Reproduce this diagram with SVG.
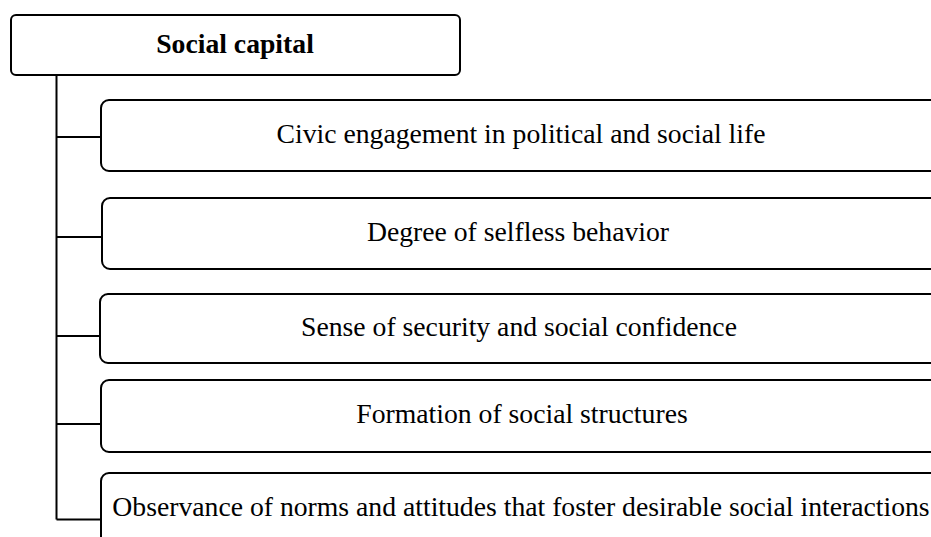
<svg xmlns="http://www.w3.org/2000/svg" width="931" height="537" viewBox="0 0 931 537">
  <style>
    .box { fill: #ffffff; stroke: #000000; stroke-width: 2; }
    .link { fill: none; stroke: #000000; stroke-width: 2; }
    .label { font-family: "Liberation Serif", "Times New Roman", Times, serif; font-size: 27.7px; fill: #000000; text-anchor: middle; }
    .title { font-weight: bold; }
  </style>
  <rect width="931" height="537" fill="#ffffff"/>
  <!-- trunk and branches from the root to each item -->
  <g id="connectors">
    <path class="link" d="M56.5 75 V519.5"/>
    <path class="link" d="M56.5 137 H101"/>
    <path class="link" d="M56.5 237 H102"/>
    <path class="link" d="M56.5 336 H100"/>
    <path class="link" d="M56.5 424 H101"/>
    <path class="link" d="M56.5 519.5 H101"/>
  </g>
  <g id="root">
    <rect class="box" x="11" y="15" width="449" height="60" rx="5"/>
    <text class="label title" x="235" y="53">Social capital</text>
  </g>
  <g id="civic">
    <rect class="box" x="101" y="100" width="840" height="71" rx="8"/>
    <text class="label" x="521" y="143">Civic engagement in political and social life</text>
  </g>
  <g id="selfless">
    <rect class="box" x="102" y="198" width="840" height="71" rx="8"/>
    <text class="label" x="518" y="241">Degree of selfless behavior</text>
  </g>
  <g id="security">
    <rect class="box" x="100" y="294" width="840" height="69" rx="8"/>
    <text class="label" x="519" y="336">Sense of security and social confidence</text>
  </g>
  <g id="structures">
    <rect class="box" x="101" y="380" width="840" height="72" rx="8"/>
    <text class="label" x="522" y="423">Formation of social structures</text>
  </g>
  <g id="norms">
    <rect class="box" x="101" y="473" width="840" height="72" rx="8"/>
    <text class="label" x="521" y="516">Observance of norms and attitudes that foster desirable social interactions</text>
  </g>
</svg>
